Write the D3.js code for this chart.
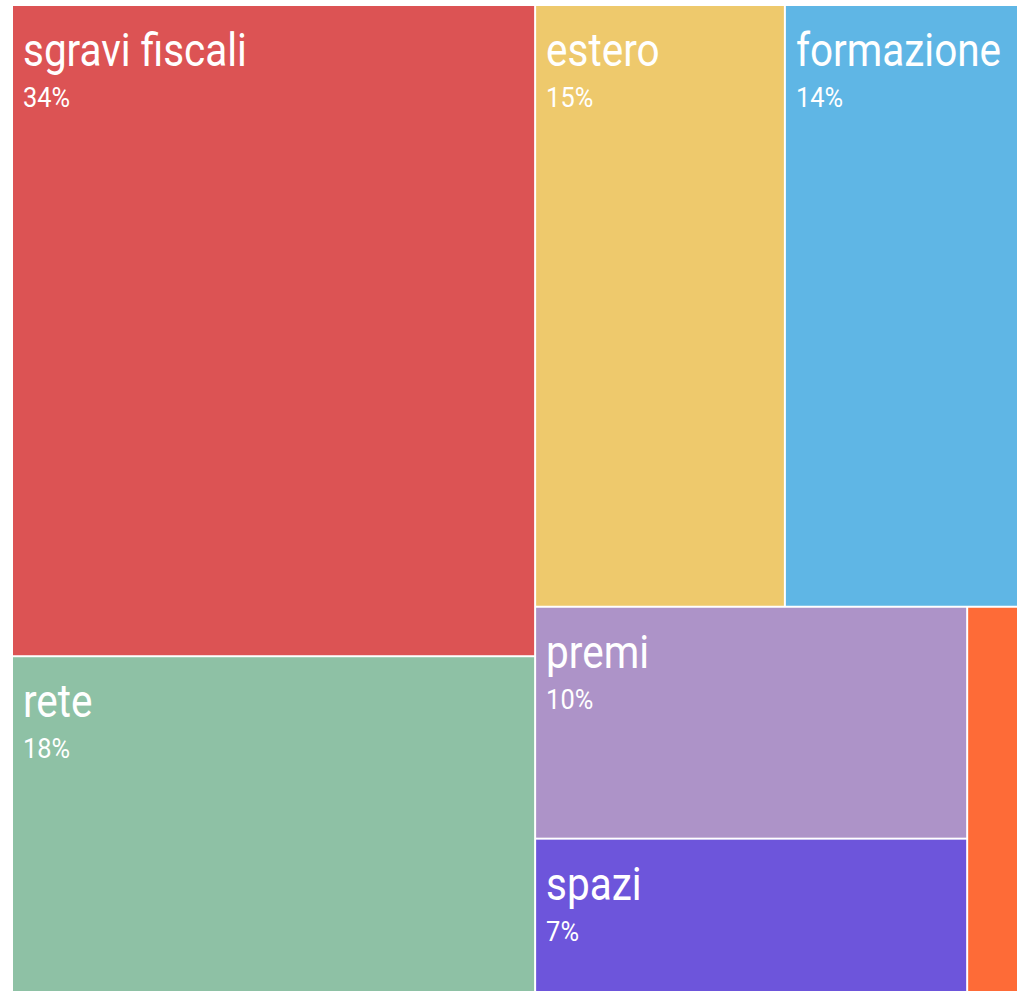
<!DOCTYPE html>
<html>
<head>
<meta charset="utf-8">
<script src="https://cdn.jsdelivr.net/npm/d3@7"></script>
<style>
  body { margin: 0; background: #fff; }
  svg { display: block; }
  text { font-family: Roboto, sans-serif; fill: #fff; }
</style>
</head>
<body>
<svg id="chart" width="1020" height="991"></svg>
<script>
// voci e percentuali
var categories = ["sgravi fiscali", "rete", "estero", "formazione", "premi", "spazi", "altro"];
var values = [34, 18, 15, 14, 10, 7, 2];
var colors = ["#dc5354", "#8ec1a5", "#eec96c", "#5fb6e5", "#ad93c8", "#6d55db", "#fe6b37"];

var svg = d3.select("#chart");
var x0 = 13, y0 = 6, w = 1004, h = 994;

var root = d3.hierarchy({ children: categories.map(function(c, i) {
    return { name: c, value: values[i], color: colors[i] };
  }) })
  .sum(function(d) { return d.value || 0; });

d3.treemap()
  .tile(d3.treemapSquarify.ratio(1.4))
  .size([w, h])
  .paddingInner(2)(root);

var cell = svg.append("g")
  .attr("transform", "translate(" + x0 + "," + y0 + ")")
  .selectAll("g")
  .data(root.leaves())
  .enter().append("g")
  .attr("transform", function(d) { return "translate(" + d.x0 + "," + d.y0 + ")"; });

cell.append("rect")
  .attr("width", function(d) { return d.x1 - d.x0; })
  .attr("height", function(d) { return d.y1 - d.y0; })
  .attr("fill", function(d) { return d.data.color; });

var labelled = cell.filter(function(d) { return d.x1 - d.x0 > 100; });

// Roboto stretta un po' per somigliare alla condensed
labelled.append("text")
  .attr("transform", "translate(10,60) scale(0.92,1.04)")
  .style("font-size", "44px")
  .text(function(d) { return d.data.name; });

labelled.append("text")
  .attr("transform", "translate(10,101) scale(0.94,1.04)")
  .style("font-size", "27px")
  .text(function(d) { return d.data.value + "%"; });
</script>
</body>
</html>
